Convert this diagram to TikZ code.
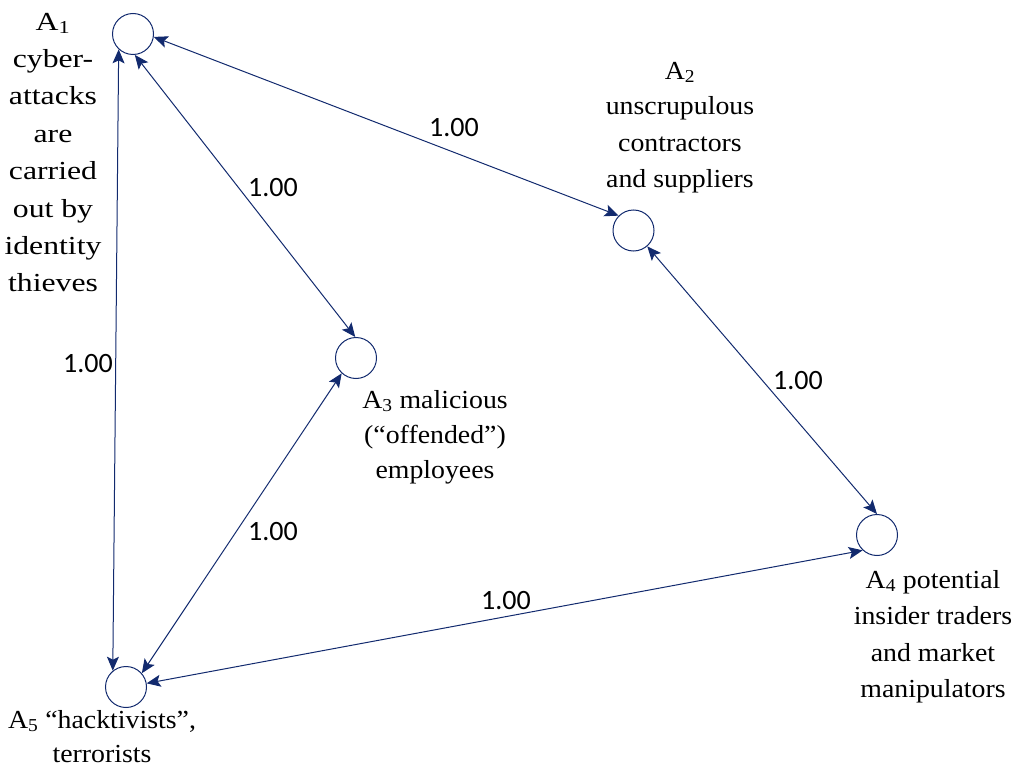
\documentclass[tikz,border=0pt]{standalone}
\usepackage{fontspec}
\setmainfont{Liberation Serif}[FakeStretch=1.07]
\newfontfamily\wideserif{Liberation Serif}[FakeStretch=1.22]
\newfontfamily\weightfont{Carlito}
\usetikzlibrary{arrows.meta}
\definecolor{navy}{RGB}{18,42,110}
\tikzset{
  agent/.style={circle,draw=navy,line width=1pt,minimum size=41pt,inner sep=0pt},
  link/.style={draw=navy,line width=1pt,{Stealth[length=14pt,width=12pt,inset=3pt]}-{Stealth[length=14pt,width=12pt,inset=3pt]}},
  lbl/.style={align=center,anchor=base,inner sep=0pt},
  wt/.style={font=\weightfont\fontsize{28}{30}\selectfont,inner sep=0pt}
}
\begin{document}
\begin{tikzpicture}[x=1pt,y=-1pt]
\useasboundingbox (0,0) rectangle (1017,765);
\node[agent] (A1) at (133,34) {};
\node[agent] (A2) at (633.5,230.5) {};
\node[agent] (A3) at (356,358) {};
\node[agent] (A4) at (877,535) {};
\node[agent] (A5) at (126,687) {};

\draw[link] (A1.352) -- (A2.135);
\draw[link] (A1.275) -- (A3.92);
\draw[link] (A1.227) -- (A5.129);
\draw[link] (A2.311) -- (A4.90);
\draw[link] (A3.227) -- (A5.41);
\draw[link] (A4.227) -- (A5.10);

\node[lbl,font=\wideserif\fontsize{26}{37.4}\selectfont] (L1) at (53,291.8) {A\textsubscript{1}\\cyber-\\attacks\\are\\carried\\out by\\identity\\thieves};
\node[lbl,font=\fontsize{26}{36}\selectfont] (L2) at (680,187) {A\textsubscript{2}\\unscrupulous\\contractors\\and suppliers};
\node[lbl,font=\fontsize{26}{35}\selectfont] (L3) at (435,478) {A\textsubscript{3} malicious\\(“offended”)\\employees};
\node[lbl,font=\fontsize{26}{36.6}\selectfont] (L4) at (933,697.8) {A\textsubscript{4} potential\\insider traders\\and market\\manipulators};
\node[lbl,font=\fontsize{26}{34}\selectfont] (L5) at (102,762) {A\textsubscript{5} “hacktivists”,\\terrorists};

\node[wt] (w12) at (454,128) {1.00};
\node[wt] (w13) at (273,188) {1.00};
\node[wt] (w15) at (88,364) {1.00};
\node[wt] (w24) at (798,381) {1.00};
\node[wt] (w35) at (273,532) {1.00};
\node[wt] (w45) at (506,601) {1.00};
\end{tikzpicture}
\end{document}
